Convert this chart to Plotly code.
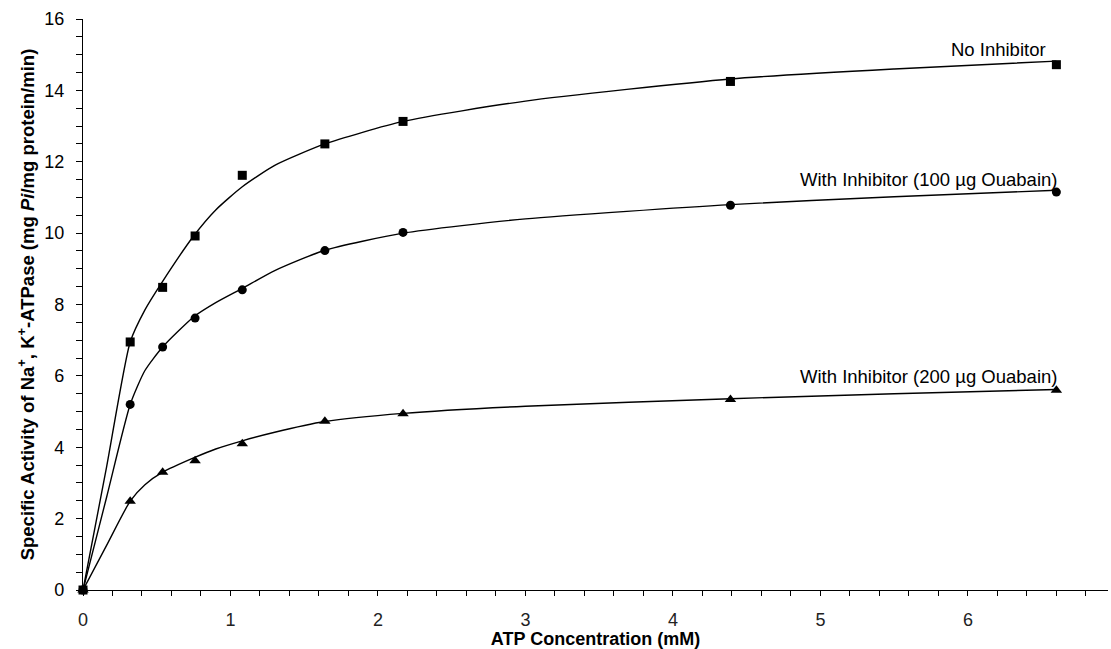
import plotly.graph_objects as go

# Measured data (ATP concentration, mM)
atp = [0, 0.32, 0.54, 0.76, 1.08, 1.64, 2.17, 4.39, 6.60]
no_inhibitor = [0, 6.95, 8.48, 9.92, 11.62, 12.50, 13.13, 14.25, 14.72]
inhib_100 = [0, 5.20, 6.81, 7.62, 8.41, 9.51, 10.02, 10.78, 11.15]
inhib_200 = [0, 2.49, 3.30, 3.62, 4.10, 4.73, 4.94, 5.34, 5.60]

# Fitted curves
curve_x = [0, 0.16, 0.32, 0.42, 0.54, 0.75, 0.9, 1.08, 1.3, 1.64, 2.17, 3.0, 4.39, 5.5, 6.6]
curve_no = [0, 3.45, 6.95, 7.85, 8.65, 9.92, 10.65, 11.30, 11.90, 12.50, 13.13, 13.70, 14.32, 14.60, 14.82]
curve_100 = [0, 2.60, 5.20, 6.15, 6.81, 7.65, 8.05, 8.45, 8.95, 9.52, 10.00, 10.40, 10.80, 11.02, 11.20]
curve_200 = [0, 1.25, 2.49, 2.95, 3.30, 3.70, 3.95, 4.18, 4.42, 4.72, 4.95, 5.15, 5.36, 5.50, 5.62]

labels = ["No Inhibitor", "With Inhibitor (100 µg Ouabain)", "With Inhibitor (200 µg Ouabain)"]
label_x = [6.54, 6.62, 6.62]
label_y = [15.14, 11.50, 5.98]

x_ticks = [0, 1, 2, 3, 4, 5, 6]
y_ticks = [0, 2, 4, 6, 8, 10, 12, 14, 16]

FONT = "Liberation Sans, Arial, sans-serif"

fig = go.Figure()
for cy in (curve_no, curve_100, curve_200):
    fig.add_trace(go.Scatter(x=curve_x, y=cy, mode="lines",
                             line=dict(color="black", width=1.4, shape="spline", smoothing=0.6),
                             hoverinfo="skip", showlegend=False, cliponaxis=False))

for ys, sym, sz in ((no_inhibitor, "square", 9), (inhib_100, "circle", 9), (inhib_200, "triangle-up", 10)):
    fig.add_trace(go.Scatter(x=atp, y=ys, mode="markers",
                             marker=dict(symbol=sym, size=sz, color="black"),
                             showlegend=False, cliponaxis=False))

for t, lx, ly in zip(labels, label_x, label_y):
    fig.add_annotation(x=lx, y=ly, text=t, showarrow=False, xanchor="right", yanchor="middle",
                       font=dict(family=FONT, size=18.5, color="black"))

fig.update_layout(
    width=1111, height=649,
    margin=dict(l=83, r=3, t=19, b=57),
    paper_bgcolor="white", plot_bgcolor="white",
    font=dict(family=FONT, color="black"),
    showlegend=False,
)
fig.update_xaxes(
    range=[0, 6.95], tickvals=x_ticks, ticktext=[str(v) for v in x_ticks],
    showline=True, linecolor="black", linewidth=1.3, showgrid=False, zeroline=False,
    ticks="outside", ticklen=5, tickcolor="black", tickwidth=1,
    minor=dict(dtick=0.2, ticks="outside", ticklen=5, tickcolor="black", showgrid=False),
    tickfont=dict(size=18, family=FONT, color="#222"), ticklabelstandoff=8,
    title=dict(text="<b>ATP Concentration (mM)</b>", font=dict(size=18, family=FONT), standoff=4),
)
fig.update_yaxes(
    range=[0, 16], tickvals=y_ticks, ticktext=[str(v) for v in y_ticks],
    showline=True, linecolor="black", linewidth=1.3, showgrid=False, zeroline=False,
    ticks="outside", ticklen=6, tickcolor="black", tickwidth=1,
    minor=dict(dtick=0.5, ticks="outside", ticklen=6, tickcolor="black", showgrid=False),
    tickfont=dict(size=18, family=FONT), ticklabelstandoff=8,
    title=dict(text="<b>Specific Activity of Na<sup>+</sup>, K<sup>+</sup>-ATPase (mg <i>Pi</i>/mg protein/min)</b>",
               font=dict(size=18.5, family=FONT), standoff=4),
)

fig.write_html("out.html")
